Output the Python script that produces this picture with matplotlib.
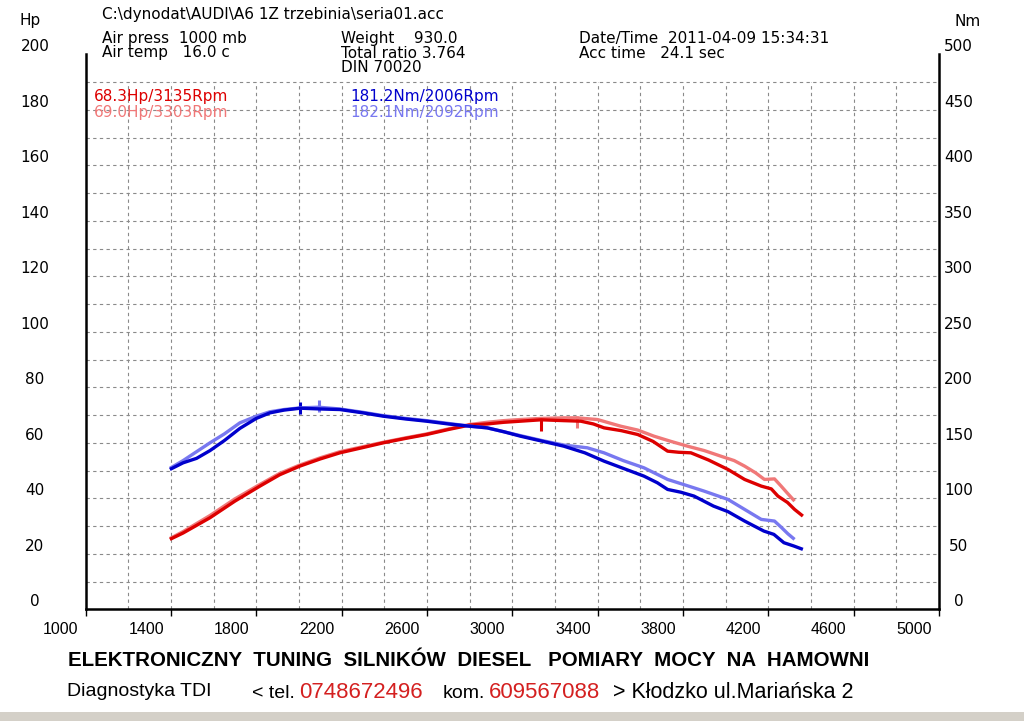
import numpy as np
import matplotlib
matplotlib.use("Agg")
import matplotlib.pyplot as plt
from matplotlib.transforms import ScaledTranslation
from matplotlib.patches import Rectangle

# moc - przejazd 1 (ciemny czerwony)
rpm_hp1 = [1395, 1457, 1583, 1700, 1817, 1910, 2004, 2100, 2192, 2300, 2395, 2500,
           2598, 2700, 2800, 2882, 2960, 3038, 3135, 3241, 3321, 3380, 3430, 3510,
           3588, 3660, 3728, 3780, 3837, 3920, 4011, 4089, 4167, 4214, 4245, 4290,
           4323, 4362]
hp1 = [25.2, 27.5, 33.0, 39.0, 44.4, 48.5, 51.6, 54.2, 56.4, 58.3, 60.0, 61.6,
       63.0, 64.8, 66.4, 66.8, 67.4, 67.8, 68.3, 68.0, 67.8, 66.8, 65.4, 64.4,
       63.0, 60.5, 57.0, 56.6, 56.4, 53.8, 50.4, 46.8, 44.4, 43.4, 40.8, 38.5,
       36.0, 33.6]

# moc - przejazd 2 (jasny czerwony)
rpm_hp2 = [1395, 1457, 1583, 1700, 1817, 1910, 2004, 2100, 2192, 2300, 2395, 2500,
           2598, 2700, 2800, 2882, 2960, 3038, 3135, 3241, 3303, 3399, 3508, 3588,
           3664, 3740, 3821, 3900, 3977, 4040, 4089, 4140, 4182, 4229, 4260, 4290,
           4323]
hp2 = [25.5, 28.0, 33.8, 39.8, 45.0, 49.0, 52.0, 54.6, 56.8, 58.6, 60.2, 61.8,
       63.2, 65.0, 66.6, 67.4, 68.0, 68.4, 68.8, 69.0, 69.0, 68.4, 66.0, 64.6,
       62.4, 60.6, 58.8, 57.2, 55.2, 53.6, 51.6, 49.2, 46.8, 47.0, 44.4, 41.8,
       39.0]

# moment - przejazd 1 (ciemny niebieski)
rpm_nm1 = [1395, 1457, 1520, 1583, 1650, 1723, 1800, 1864, 1930, 2006, 2100, 2192,
           2300, 2395, 2500, 2598, 2700, 2800, 2882, 2960, 3038, 3140, 3241, 3340,
           3430, 3520, 3617, 3680, 3728, 3790, 3852, 3943, 4011, 4089, 4179, 4226,
           4273, 4320, 4362]
nm1 = [126, 132, 136, 143, 152, 163, 172, 177, 179.5, 181.2, 180.5, 180,
       177, 174, 171.5, 169.5, 167, 165, 163.5, 160, 156, 151.5, 147, 141,
       133.5, 127, 120, 114, 108, 105.5, 102, 93, 88, 79.5, 70.5, 67.5,
       60, 57, 54]

# moment - przejazd 2 (jasny niebieski)
rpm_nm2 = [1395, 1457, 1520, 1583, 1650, 1723, 1800, 1864, 1930, 2006, 2092, 2192,
           2300, 2395, 2500, 2598, 2700, 2800, 2882, 2960, 3038, 3140, 3241, 3352,
           3430, 3520, 3617, 3728, 3810, 3899, 4011, 4089, 4167, 4229, 4260, 4292,
           4323]
nm2 = [127, 134, 142, 150, 158, 168, 174, 178, 180, 181.5, 182.1, 180.5,
       177.5, 174.5, 172, 170, 167.5, 165, 163.5, 160, 156.5, 152, 148, 145.5,
       141, 134, 127.5, 117, 112, 106.5, 99, 90, 81, 79.5, 74, 68,
       63]

# wartosci szczytowe
peak_hp_rpm = [3135, 3303]
peak_hp = [68.3, 69.0]
peak_nm_rpm = [2006, 2092]
peak_nm = [181.2, 182.1]

x_ticks = list(range(1000, 5001, 400))
hp_ticks = list(range(0, 201, 20))
nm_ticks = list(range(0, 501, 50))
grid_rpm = list(range(1200, 5000, 200))
grid_hp = list(range(10, 200, 10))

c_red1 = '#dd0000'
c_red2 = '#f07878'
c_blue1 = '#0000cc'
c_blue2 = '#7878f0'
c_phone = '#d42020'

W, H = 1024, 721
fig = plt.figure(figsize=(W / 100, H / 100), dpi=100)
fig.patch.set_facecolor('white')

def fx(px):
    return px / W

def fy(py):
    return 1 - py / H

ax = fig.add_axes([fx(85.6), fy(609.3), fx(939) - fx(85.6), fy(54.4) - fy(609.3)])
ax2 = ax.twinx()

ax.set_xlim(1000, 5000)
ax.set_ylim(0, 200)
ax2.set_ylim(0, 500)

# siatka co 200 obr/min i co 10 Hp (bez linii na 200 Hp)
grid_kw = dict(color='#8a8a8a', lw=0.8, linestyle=(0, (3, 3)), zorder=1)
ax.vlines(grid_rpm, 0, grid_hp[-1], **grid_kw)
ax.hlines(grid_hp, 1000, 5000, **grid_kw)

# krzywe
ax.plot(rpm_hp2, hp2, color=c_red2, lw=2.4, solid_capstyle='butt', zorder=3)
ax.plot(rpm_hp1, hp1, color=c_red1, lw=2.4, solid_capstyle='butt', zorder=3)
ax2.plot(rpm_nm2, nm2, color=c_blue2, lw=2.4, solid_capstyle='butt', zorder=3)
ax2.plot(rpm_nm1, nm1, color=c_blue1, lw=2.4, solid_capstyle='butt', zorder=3)

ax.plot(peak_hp_rpm[0], peak_hp[0] - 2.0, marker='|', ms=8, mew=2.2, color=c_red1)
ax.plot(peak_hp_rpm[1], peak_hp[1] - 1.5, marker='|', ms=8, mew=2.2, color=c_red2)
ax2.plot(peak_nm_rpm[0], peak_nm[0], marker='|', ms=9, mew=2.2, color=c_blue1)
ax2.plot(peak_nm_rpm[1], peak_nm[1] + 1, marker='|', ms=8, mew=2.2, color=c_blue2)

# osie
for a in (ax, ax2):
    a.spines['top'].set_visible(False)
    for s in ('left', 'right', 'bottom'):
        a.spines[s].set_linewidth(1.8)
        a.spines[s].set_color('black')
ax.spines['right'].set_visible(False)
ax2.spines['left'].set_visible(False)
ax2.spines['bottom'].set_visible(False)

ax.set_xticks(x_ticks)
ax.set_xticklabels([str(v) for v in x_ticks], family='Liberation Sans', fontsize=11.5)
ax.tick_params(axis='x', which='major', direction='out', length=5, width=1, pad=4)
off = ScaledTranslation(-7 / 100, 0, fig.dpi_scale_trans)
for lbl in ax.get_xticklabels():
    lbl.set_ha('right')
    lbl.set_transform(lbl.get_transform() + off)

ax.set_yticks(hp_ticks)
ax.set_yticklabels([str(v) for v in hp_ticks], fontsize=11)
ax.tick_params(axis='y', which='major', length=0, pad=36.5)
for lbl in ax.get_yticklabels():
    lbl.set_ha('center')
    lbl.set_va('bottom')

ax2.set_yticks(nm_ticks)
ax2.set_yticklabels([str(v) for v in nm_ticks], fontsize=11)
ax2.tick_params(axis='y', which='major', length=0, pad=14)
for lbl in ax2.get_yticklabels():
    lbl.set_ha('center')
    lbl.set_va('bottom')

fig.text(fx(30), fy(20), 'Hp', fontsize=11, ha='center', va='center')
fig.text(fx(968), fy(22), 'Nm', fontsize=11, ha='center', va='center')

# naglowek
hdr = dict(fontsize=11, ha='left', va='center')
white = dict(facecolor='white', edgecolor='none', pad=0)
fig.text(fx(102), fy(14), 'C:\\dynodat\\AUDI\\A6 1Z trzebinia\\seria01.acc', **hdr)
fig.text(fx(102), fy(39), 'Air press  1000 mb', **hdr)
fig.text(fx(102), fy(53), 'Air temp   16.0 c', bbox=white, **hdr)
fig.text(fx(341), fy(39), 'Weight    930.0', **hdr)
fig.text(fx(341), fy(53), 'Total ratio 3.764', bbox=white, **hdr)
fig.text(fx(341), fy(67), 'DIN 70020', **hdr)
fig.text(fx(579), fy(39), 'Date/Time  2011-04-09 15:34:31', **hdr)
fig.text(fx(579), fy(53), 'Acc time   24.1 sec', bbox=white, **hdr)

# opis wartosci szczytowych
fig.text(fx(94), fy(97), '%.1fHp/%dRpm' % (peak_hp[0], peak_hp_rpm[0]), color=c_red1, **hdr)
fig.text(fx(94), fy(112), '%.1fHp/%dRpm' % (peak_hp[1], peak_hp_rpm[1]), color=c_red2, **hdr)
fig.text(fx(350), fy(97), '%.1fNm/%dRpm' % (peak_nm[0], peak_nm_rpm[0]), color=c_blue1, **hdr)
fig.text(fx(350), fy(112), '%.1fNm/%dRpm' % (peak_nm[1], peak_nm_rpm[1]), color=c_blue2, **hdr)

# stopka
fig.text(fx(469), fy(661), 'ELEKTRONICZNY  TUNING  SILNIKÓW  DIESEL   POMIARY  MOCY  NA  HAMOWNI',
         family='Liberation Sans', fontsize=14.8, weight='bold', ha='center', va='center')
foot = dict(family='Liberation Sans', fontsize=14, va='center')
fig.text(fx(67), fy(692), 'Diagnostyka TDI', color='black', **foot)
fig.text(fx(252), fy(693), '< tel.', color='black', **foot)
fig.text(fx(299), fy(693), '0748672496', color=c_phone, family='Liberation Sans', fontsize=16, va='center')
fig.text(fx(443), fy(693), 'kom.', color='black', **foot)
fig.text(fx(489), fy(693), '609567088', color=c_phone, family='Liberation Sans', fontsize=16, va='center')
fig.text(fx(613), fy(693), '> Kłodzko ul.Mariańska 2', color='black',
         family='Liberation Sans', fontsize=15.5, va='center')

fig.patches.append(Rectangle((0, 0), 1, fy(712), transform=fig.transFigure,
                             facecolor='#d4d0c8', edgecolor='none'))

fig.savefig('out.png', dpi=100)
